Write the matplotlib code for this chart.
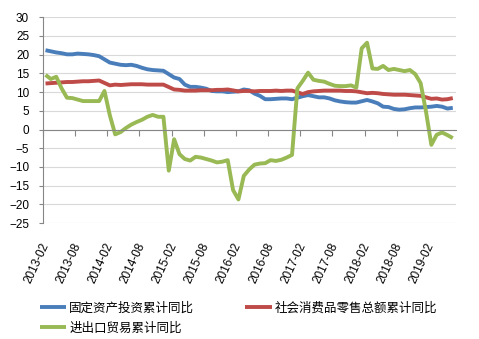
import matplotlib
matplotlib.use("Agg")
import matplotlib.pyplot as plt
import matplotlib.transforms as mtransforms
import numpy as np
import pandas as pd

plt.rcParams['font.family'] = ['Liberation Sans', 'Noto Sans CJK SC']

# monthly 2013-02 .. 2019-06, None where no January figure is published
months = pd.period_range('2013-02', '2019-06', freq='M')
tick_labels = [str(p) for p in months[::6]]

fai = [21.2, 20.9, 20.6, 20.4, 20.1, 20.1, 20.3, 20.2, 20.1, 19.9, 19.6,
       None, 17.9, 17.6, 17.3, 17.2, 17.3, 17.0, 16.5, 16.1, 15.9, 15.8, 15.7,
       None, 13.9, 13.5, 12.0, 11.4, 11.4, 11.2, 10.9, 10.3, 10.2, 10.2, 10.0,
       None, 10.2, 10.7, 10.5, 9.6, 9.0, 8.1, 8.1, 8.2, 8.3, 8.3, 8.1,
       None, 8.9, 9.2, 8.9, 8.6, 8.6, 8.3, 7.8, 7.5, 7.3, 7.2, 7.2,
       None, 7.9, 7.5, 7.0, 6.1, 6.0, 5.5, 5.3, 5.4, 5.7, 5.9, 5.9,
       None, 6.1, 6.3, 6.1, 5.6, 5.8]

retail = [12.3, 12.4, 12.5, 12.6, 12.7, 12.7, 12.8, 12.9, 12.9, 13.0, 13.1,
          None, 11.8, 12.0, 11.9, 12.0, 12.1, 12.1, 12.1, 12.0, 12.0, 12.0, 12.0,
          None, 10.7, 10.6, 10.4, 10.4, 10.4, 10.5, 10.5, 10.5, 10.6, 10.6, 10.7,
          None, 10.2, 10.3, 10.3, 10.2, 10.3, 10.3, 10.3, 10.4, 10.3, 10.4, 10.4,
          None, 9.5, 10.0, 10.2, 10.3, 10.4, 10.4, 10.4, 10.4, 10.3, 10.3, 10.2,
          None, 9.7, 9.8, 9.7, 9.5, 9.4, 9.3, 9.3, 9.3, 9.2, 9.1, 9.0,
          None, 8.2, 8.3, 8.0, 8.1, 8.4]

trade = [14.6, 13.5, 14.1, 11.0, 8.5, 8.4, 8.0, 7.6, 7.6, 7.6, 7.6,
         10.3, 3.8, -1.3, -0.7, 0.4, 1.3, 2.0, 2.6, 3.4, 3.9, 3.4, 3.4,
         -11.0, -2.6, -6.6, -7.9, -8.3, -7.3, -7.5, -7.9, -8.3, -8.8, -8.6, -8.2,
         -16.2, -18.7, -12.4, -10.7, -9.4, -9.1, -9.0, -8.2, -8.4, -8.1, -7.5, -6.8,
         11.0, 13.0, 15.2, 13.3, 13.0, 12.8, 12.2, 11.7, 11.6, 11.6, 11.8, 11.2,
         21.7, 23.2, 16.3, 16.2, 17.0, 15.9, 16.2, 15.9, 15.6, 15.9, 14.8, 12.4,
         4.8, -4.1, -1.4, -0.8, -1.5, -2.3]

names = ['固定资产投资累计同比', '社会消费品零售总额累计同比', '进出口贸易累计同比']
colors = ['#4A7EBB', '#BE4B48', '#98B954']

fig = plt.figure(figsize=(4.79, 3.39), dpi=100)
ax = fig.add_axes([43 / 479, 1 - 223 / 339, (456 - 43) / 479, (223 - 17.3) / 339])

idx = np.arange(len(months))
lines = []
for vals, name, c in zip([fai, retail, trade], names, colors):
    s = pd.Series(vals, index=idx, dtype=float).dropna()
    ln, = ax.plot(s.index, s.values, color=c, lw=2.8, label=name,
                  solid_joinstyle='round', solid_capstyle='butt')
    lines.append(ln)

ax.set_xlim(-0.47, 76.6)
ax.set_ylim(-25, 30)
ax.set_yticks(range(-25, 31, 5))
ax.yaxis.grid(True, color='#D9D9D9', lw=0.8)
ax.set_axisbelow(True)

for side in ['top', 'right']:
    ax.spines[side].set_visible(False)
ax.spines['left'].set_color('#868686')
ax.spines['bottom'].set_color('#868686')
ax.spines['bottom'].set_position(('data', 0))

ax.set_xticks(idx[::6] - 0.47)
ax.set_xticklabels([])
ax.tick_params(axis='x', direction='out', length=4.5, color='#868686')
ax.tick_params(axis='y', direction='out', length=3, color='#868686',
               pad=7, labelsize=8.5)

trans = mtransforms.blended_transform_factory(ax.transData, ax.transAxes)
for i, lab in zip(idx[::6], tick_labels):
    ax.text(i, -0.1, lab, transform=trans, rotation=65, rotation_mode='anchor',
            ha='right', va='center', fontsize=8.5)

# column-major fill -> blue, red on first row, green on second
fig.legend([lines[0], lines[2], lines[1]], [names[0], names[2], names[1]],
           loc='upper left', bbox_to_anchor=(0.083, 0.109), ncol=2,
           frameon=False, fontsize=9, handlelength=2.1, handletextpad=0.25,
           columnspacing=4.1, labelspacing=0.65, borderpad=0, borderaxespad=0)

fig.savefig('out.png', dpi=100)
